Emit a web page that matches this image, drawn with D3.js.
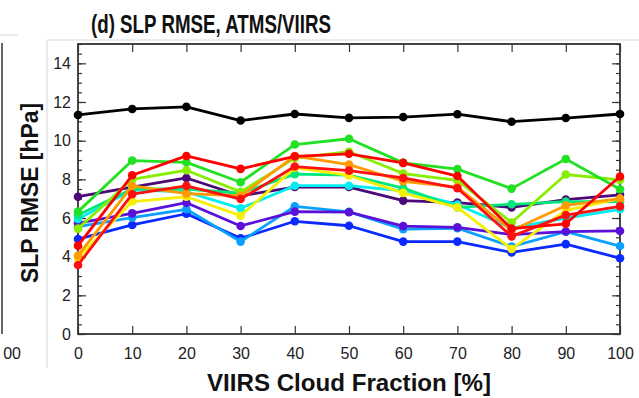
<!DOCTYPE html>
<html><head><meta charset="utf-8">
<script src="https://cdn.jsdelivr.net/npm/d3@7"></script>
<style>body{margin:0;background:#fff}svg{display:block}</style>
</head><body><svg id="c" width="639" height="398"></svg>
<script>
// ---- data ----
const cloudFraction = [0,10,20,30,40,50,60,70,80,90,100];
const xTickLabels = [0,10,20,30,40,50,60,70,80,90,100];
const yTickLabels = [0,2,4,6,8,10,12,14];

const rmseBlack      = [11.33,11.64,11.75,11.04,11.38,11.18,11.22,11.37,10.98,11.17,11.38];
const rmseDarkPurple = [7.10,7.60,8.07,7.15,7.60,7.60,6.90,6.80,6.55,6.95,7.20];
const rmseIndigo     = [5.74,6.24,6.79,5.59,6.33,6.30,5.58,5.52,5.14,5.30,5.33];
const rmseBlue       = [4.91,5.64,6.22,4.95,5.83,5.60,4.78,4.78,4.22,4.65,3.92];
const rmseLightBlue  = [5.55,6.02,6.45,4.78,6.60,6.32,5.42,5.47,4.52,5.29,4.55];
const rmseCyan       = [5.95,7.45,7.35,6.50,7.67,7.67,7.40,6.70,5.47,6.00,6.45];
const rmseSpring     = [6.15,7.50,7.50,7.28,8.27,8.22,7.55,6.55,6.71,6.85,6.85];
const rmseGreen      = [6.33,8.97,8.88,7.85,9.80,10.10,8.85,8.53,7.52,9.05,7.49];
const rmseYellowGrn  = [5.45,8.00,8.47,7.35,9.10,9.43,8.30,7.95,5.77,8.25,7.97];
const rmseYellow     = [3.93,6.85,7.10,6.12,8.60,8.20,7.30,6.55,4.40,6.40,7.00];
const rmseOrange     = [4.05,7.66,7.26,7.15,9.20,8.76,7.90,7.60,5.35,6.65,7.00];
const rmseRedB       = [3.57,7.23,7.66,6.98,8.66,8.45,8.07,7.54,5.05,6.15,6.60];
const rmseRedA       = [4.57,8.21,9.21,8.54,9.19,9.32,8.85,8.17,5.45,5.70,8.15];

const seriesList = [
  {values: rmseBlue,      color: "#0a2aff"},
  {values: rmseLightBlue, color: "#0aa0ff"},
  {values: rmseIndigo,    color: "#5a10d8"},
  {values: rmseDarkPurple,color: "#4b0a78"},
  {values: rmseCyan,      color: "#00eef0"},
  {values: rmseSpring,    color: "#00e87a"},
  {values: rmseYellow,    color: "#f6f000"},
  {values: rmseYellowGrn, color: "#88ee00"},
  {values: rmseOrange,    color: "#ff9a00"},
  {values: rmseGreen,     color: "#22e022"},
  {values: rmseRedB,      color: "#ff1010"},
  {values: rmseRedA,      color: "#ff0000"},
  {values: rmseBlack,     color: "#000000"}
];

// ---- layout ----
const svg = d3.select("#c");
const L = 78, R = 620, T = 44, B = 334;
const x = d3.scaleLinear().domain([0,100]).range([L,R]);
const y = d3.scaleLinear().domain([0,15]).range([B,T]);
const font = "'Liberation Sans', Arial, Helvetica, sans-serif";

// faint frame of panel
svg.append("path").attr("d", `M47,368 V40 H639`).attr("fill","none").attr("stroke","#d8d8d8").attr("stroke-width",1);
// neighbouring (cut off) panel
svg.append("path").attr("d","M0,35 H18").attr("stroke","#d8d8d8").attr("stroke-width",1);
svg.append("line").attr("x1",2).attr("x2",2).attr("y1",43).attr("y2",334).attr("stroke","#333").attr("stroke-width",1.5);
svg.append("text").attr("x",21).attr("y",359).attr("text-anchor","end")
  .attr("font-family",font).attr("font-size",16).attr("fill","#222").text("00");

// axes
const minorY = d3.range(0,15.01,0.5);
function styleAxis(g){ g.select(".domain").remove(); g.selectAll("line").attr("stroke","#333").attr("stroke-width",1.2); }
svg.append("g").attr("transform",`translate(${L},0)`)
  .call(d3.axisLeft(y).tickValues(minorY).tickSize(-4).tickFormat(""))
  .call(styleAxis);
svg.append("g").attr("transform",`translate(${R},0)`)
  .call(d3.axisRight(y).tickValues(minorY).tickSize(-4).tickFormat(""))
  .call(styleAxis);
svg.append("g").attr("transform",`translate(${R},0)`)
  .call(d3.axisRight(y).tickValues(yTickLabels).tickSize(-8).tickFormat(""))
  .call(styleAxis);
const yAx = svg.append("g").attr("transform",`translate(${L},0)`)
  .call(d3.axisLeft(y).tickValues(yTickLabels).tickSize(-8).tickPadding(7).tickFormat(d3.format("d")))
  .call(styleAxis);
yAx.selectAll("text").attr("font-family",font).attr("font-size",16).attr("fill","#222");

const xAx = svg.append("g").attr("transform",`translate(0,${B})`)
  .call(d3.axisBottom(x).tickValues(xTickLabels).tickSize(-8).tickPadding(14).tickFormat(d3.format("d")))
  .call(styleAxis);
xAx.selectAll("text").attr("font-family",font).attr("font-size",16).attr("fill","#222");
svg.append("g").attr("transform",`translate(0,${T})`)
  .call(d3.axisTop(x).tickValues(xTickLabels).tickSize(-8).tickFormat(""))
  .call(styleAxis);

svg.append("rect").attr("x",L).attr("y",T).attr("width",R-L).attr("height",B-T)
  .attr("fill","none").attr("stroke","#333").attr("stroke-width",1.8);

// series
const line = d3.line().x((d,i)=>x(cloudFraction[i])).y(d=>y(d));
const gS = svg.append("g");
seriesList.forEach(s=>{
  gS.append("path").datum(s.values).attr("d",line).attr("fill","none")
    .attr("stroke",s.color).attr("stroke-width",2.8).attr("stroke-linejoin","round");
  gS.selectAll(null).data(s.values).enter().append("circle")
    .attr("cx",(d,i)=>x(cloudFraction[i])).attr("cy",d=>y(d)).attr("r",4.3).attr("fill",s.color);
});

// titles
svg.append("text").attr("x",91).attr("y",33).attr("font-family",font).attr("font-weight","bold")
  .attr("font-size",25).attr("fill","#111").attr("textLength",240).attr("lengthAdjust","spacingAndGlyphs")
  .text("(d) SLP RMSE, ATMS/VIIRS");
svg.append("text").attr("x",(L+R)/2).attr("y",391).attr("text-anchor","middle").attr("font-family",font)
  .attr("font-weight","bold").attr("font-size",23).attr("fill","#111")
  .attr("textLength",284).attr("lengthAdjust","spacingAndGlyphs").text("VIIRS Cloud Fraction [%]");
svg.append("text").attr("transform",`translate(38,193) rotate(-90)`).attr("text-anchor","middle")
  .attr("font-family",font).attr("font-weight","bold").attr("font-size",23).attr("fill","#111")
  .attr("textLength",180).attr("lengthAdjust","spacingAndGlyphs").text("SLP RMSE [hPa]");
</script></body></html>
